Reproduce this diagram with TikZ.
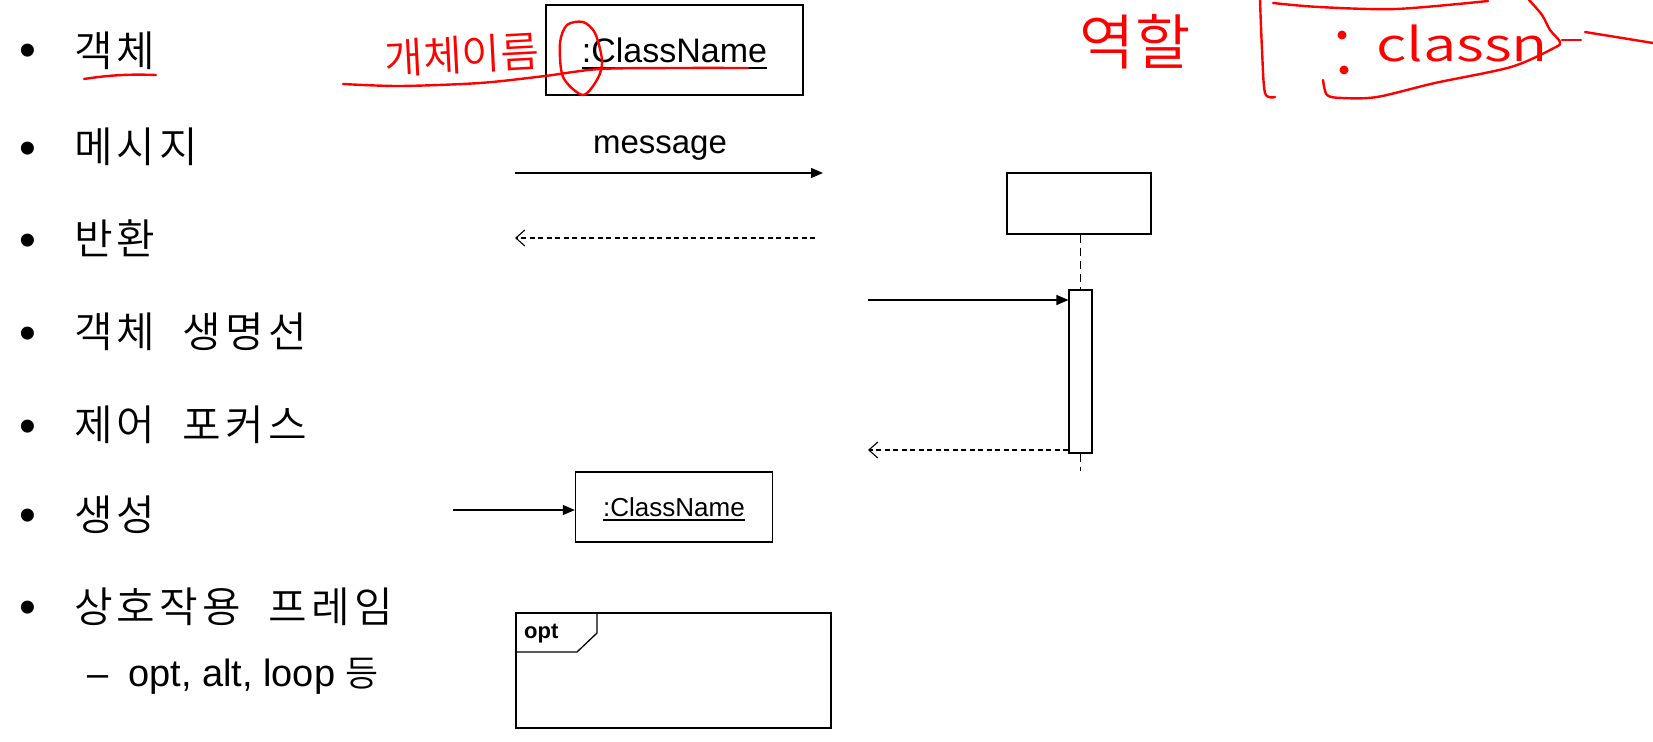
\documentclass[tikz,border=0pt]{standalone}
\usepackage{fontspec}
\setmainfont{Liberation Sans}
\newfontfamily\kr[WordSpace=2.0, LetterSpace=10]{Noto Sans CJK KR DemiLight}
\newfontfamily\krh{Noto Sans CJK KR DemiLight}
\usetikzlibrary{arrows.meta}
\tikzset{
  krtext/.style={anchor=base west, inner sep=0pt, font=\kr\fontsize{42}{50}\selectfont},
  bul/.style={anchor=base, inner sep=0pt, font=\fontsize{48}{50}\selectfont},
  umlbox/.style={draw, line width=1.3pt, inner sep=0pt},
  msg/.style={line width=1.2pt, -{Triangle[length=12pt,width=10pt]}},
  ret/.style={line width=1.1pt, dash pattern=on 5pt off 3.5pt, -{Straight Barb[length=9pt,width=16pt]}},
  lifeline/.style={line width=1.2pt, dash pattern=on 8pt off 5pt},
  pen/.style={red, line width=2.4pt, line cap=round, line join=round},
  hand/.style={red, inner sep=0pt},
}
\begin{document}
\begin{tikzpicture}[x=1pt,y=-1pt]
\useasboundingbox (0,0) rectangle (1653,741);
% bullets
\node[bul] (b1) at (28,67) {•};
\node[bul] (b2) at (28,164.5) {•};
\node[bul] (b3) at (28,256.5) {•};
\node[bul] (b4) at (28,349) {•};
\node[bul] (b5) at (28,442) {•};
\node[bul] (b6) at (28,531.5) {•};
\node[bul] (b7) at (28,623) {•};
% texts
\node[krtext] (t1) at (74,66.6) {객체};
\node[krtext] (t2) at (74,162.5) {메시지};
\node[krtext] (t3) at (74,254.8) {반환};
\node[krtext] (t4) at (74,347.5) {객체 생명선};
\node[krtext] (t5) at (74,440) {제어 포커스};
\node[krtext] (t6) at (74,530.5) {생성};
\node[krtext] (t7) at (74,622) {상호작용 프레임};
\node[anchor=base west, inner sep=0pt, font=\fontsize{38}{40}\selectfont] (d1) at (87,686) {–};
\node[anchor=base west, inner sep=0pt, font=\fontsize{38}{40}\selectfont] (t8) at (128,686) {opt, alt, loop {\krh\fontsize{36}{40}\selectfont 등}};
% object box
\node[umlbox, minimum width=257pt, minimum height=90pt] (objbox) at (674.5,50) {};
\node[anchor=base, inner sep=0pt, font=\fontsize{34}{40}\selectfont] (objname) at (674.5,63) {:ClassName};
\draw[line width=1.3pt] ([yshift=-5pt]objname.base west) -- ([yshift=-5pt]objname.base east);
% message
\node[anchor=base, inner sep=0pt, font=\fontsize{33}{40}\selectfont] (msgl) at (660,153) {message};
\coordinate (m1) at (515,173);
\coordinate (m2) at (823,173);
\draw[msg] (m1) -- (m2);
% return
\coordinate (r1) at (815,238);
\coordinate (r2) at (515,238);
\draw[ret] (r1) -- (r2);
% lifeline
\node[umlbox, line width=1.2pt, minimum width=144pt, minimum height=61pt] (ll) at (1079,203.5) {};
\node[umlbox, line width=1.1pt, fill=white, minimum width=23pt, minimum height=163pt] (act) at (1080.5,371.5) {};
\coordinate (lifeend) at (1080.5,471);
\draw[lifeline] (ll.south -| act.north) -- (act.north);
\draw[lifeline] (act.south) -- (lifeend);
\coordinate (in1) at (868,300);
\draw[msg] (in1) -- (in1 -| act.west);
\coordinate (rt2) at (868,450);
\draw[ret] (rt2 -| act.west) -- (rt2);
% creation
\node[umlbox, minimum width=197pt, minimum height=70pt] (cbox) at (674,507) {};
\node[anchor=base, inner sep=0pt, font=\fontsize{26}{30}\selectfont] (cname) at (674,516) {:ClassName};
\draw[line width=1.1pt] ([yshift=-4pt]cname.base west) -- ([yshift=-4pt]cname.base east);
\coordinate (c1) at (453,510);
\draw[msg] (c1) -- (c1 -| cbox.west);
% opt frame
\node[draw, line width=1.3pt, inner sep=0pt, minimum width=315pt, minimum height=115pt] (frame) at (673.5,670.5) {};
\draw[line width=1.3pt] (597,613) -- (597,633) -- (577,652) -- (516,652);
\node[anchor=base west, inner sep=0pt, font=\bfseries\fontsize{22}{26}\selectfont] (optl) at (524,638) {opt};
% red pen annotations
\draw[pen] (84,79) .. controls (110,75) and (130,74) .. (156,75);
\node[hand, font=\krh\fontsize{42}{44}\selectfont, rotate=3] (h1) at (462,55) {개체이름};
\draw[pen] plot[smooth] coordinates {(343,84) (400,86) (480,83) (545,76) (600,69) (680,68) (748,68)};
\draw[pen] plot[smooth cycle] coordinates {(583,95) (563,77) (560,43) (567,25) (583,22) (595,33) (602,60) (598,78)};
\node[hand, font=\krh\fontsize{60}{62}\selectfont] (h2) at (1135,42) {역할};
\draw[pen] plot[smooth] coordinates {(1260,0) (1262,50) (1265,93) (1275,97)};
\draw[pen] plot[smooth] coordinates {(1273,3) (1319,7) (1396,9) (1488,1)};
\draw[pen] plot[smooth] coordinates {(1529,0) (1542,15) (1550,30) (1560,42) (1554,48) (1511,67) (1435,83) (1377,97) (1342,98) (1327,95) (1323,80)};
\fill[red] (1342,35) circle[radius=4.5];
\fill[red] (1344,70) circle[radius=4.5];
\node[hand, anchor=base west, font=\krh\fontsize{46}{50}\selectfont, xscale=1.3] (h3) at (1376,62) {classn};
\draw[pen] (1562,40) -- (1581,40);
\draw[pen] (1585,32) -- (1653,43);
\end{tikzpicture}
\end{document}
